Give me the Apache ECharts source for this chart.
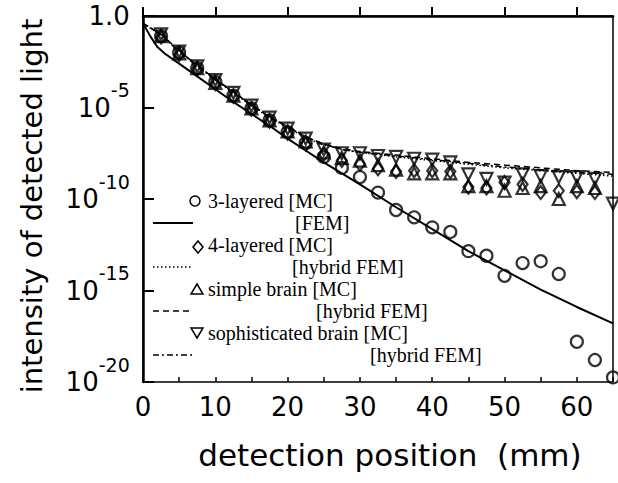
<!DOCTYPE html>
<html>
<head>
<meta charset="utf-8">
<script src="https://cdn.jsdelivr.net/npm/echarts@6/dist/echarts.min.js"></script>
<style>
html, body { margin: 0; padding: 0; background: #fff; }
#chart { width: 618px; height: 483px; }
</style>
</head>
<body>
<div id="chart"></div>
<script>
// all intensities are stored as log10(intensity)
var xMC = [2.5, 5, 7.5, 10, 12.5, 15, 17.5, 20, 22.5, 25, 27.5, 30, 32.5, 35, 37.5, 40, 42.5, 45, 47.5, 50, 52.5, 55, 57.5, 60, 62.5, 65];
var threeLayerMC = [-1.1, -2.0, -2.85, -3.6, -4.35, -5.05, -5.7, -6.35, -6.95, -7.7, -8.3, -8.8, -9.65, -10.6, -11.0, -11.55, -11.8, -12.85, -13.1, -14.2, -13.5, -13.4, -14.1, -17.8, -18.8, -19.75];
var fourLayerMC = [-1.15, -2.1, -2.9, -3.7, -4.4, -5.1, -5.75, -6.4, -7.0, -7.55, -7.9, -8.1, -8.35, -8.5, -8.45, -8.45, -8.5, -9.35, -9.4, -9.1, -9.2, -9.65, -9.55, -9.6, -9.65];
var simpleBrainMC = [-1.1, -2.05, -2.85, -3.65, -4.35, -5.05, -5.7, -6.3, -6.85, -7.45, -7.75, -7.9, -8.15, -8.4, -8.6, -8.6, -8.6, -9.3, -9.3, -9.55, -9.4, -9.3, -10.0, -9.3, -9.4];
var sophBrainMC = [-1.0, -1.95, -2.75, -3.5, -4.2, -4.9, -5.55, -6.15, -6.7, -7.3, -7.5, -7.5, -7.65, -7.7, -7.8, -7.85, -8.0, -8.65, -8.9, -9.1, -8.65, -8.75, -8.8, -8.8, -8.9, -10.25];

var xFEM = [0, 1, 2, 3, 5, 7.5, 10, 12.5, 15, 17.5, 20, 22.5, 25, 27.5, 30, 35, 40, 45, 50, 55, 60, 65];
var threeLayerFEM = [-0.4, -1.1, -1.7, -2.05, -2.6, -3.3, -4.0, -4.7, -5.35, -6.0, -6.7, -7.35, -8.0, -8.6, -9.2, -10.45, -11.65, -12.85, -13.9, -14.95, -15.9, -16.8];

var xHyb = [0, 2.5, 5, 7.5, 10, 12.5, 15, 17.5, 20, 22.5, 25, 27.5, 30, 35, 40, 45, 50, 55, 60, 65];
var fourLayerHyb = [-0.4, -1.05, -1.95, -2.75, -3.5, -4.2, -4.9, -5.55, -6.1, -6.65, -7.05, -7.3, -7.45, -7.7, -7.9, -8.1, -8.3, -8.45, -8.6, -8.75];
var simpleBrainHyb = [-0.4, -1.0, -1.9, -2.7, -3.45, -4.15, -4.85, -5.5, -6.05, -6.6, -7.0, -7.25, -7.4, -7.6, -7.8, -8.0, -8.15, -8.3, -8.45, -8.55];
var sophBrainHyb = [-0.4, -1.0, -1.9, -2.7, -3.45, -4.15, -4.85, -5.5, -6.05, -6.6, -7.0, -7.3, -7.45, -7.65, -7.85, -8.05, -8.25, -8.4, -8.55, -8.65];

var yTicks = [0, -5, -10, -15, -20];

function pairs(xs, ys) {
    var out = [];
    for (var i = 0; i < ys.length; i++) out.push([xs[i], ys[i]]);
    return out;
}

var myChart = echarts.init(document.getElementById('chart'), null, { renderer: 'svg' });

var markStyle = { color: 'rgba(0,0,0,0)', borderColor: '#000', borderWidth: 2.2 };
var legFont = { fontSize: 20, fontFamily: '"Liberation Serif", serif', fill: '#000', verticalAlign: 'middle' };
function legText(x, y, t) {
    return { type: 'text', x: x, y: y, style: Object.assign({ text: t }, legFont) };
}
function legLine(y, dash) {
    return { type: 'line', shape: { x1: 153, y1: y, x2: 193, y2: y },
        style: { stroke: '#000', lineWidth: dash ? 1.5 : 2, lineDash: dash || null } };
}
var legShape = { fill: 'none', stroke: '#000', lineWidth: 1.5 };
var sans = '"DejaVu Sans", sans-serif';

var option = {
    animation: false,
    grid: { left: 143, right: 5, top: 16, bottom: 101, show: true, borderColor: '#000', borderWidth: 1.5, backgroundColor: 'transparent' },
    xAxis: [
        {
            type: 'value', min: 0, max: 65, interval: 10,
            name: 'detection position  (mm)', nameLocation: 'middle', nameGap: 57,
            nameTextStyle: { fontSize: 31, fontFamily: sans, color: '#000', padding: [0, 0, 0, 24] },
            axisLine: { lineStyle: { color: '#000', width: 2.5 } },
            axisTick: { inside: true, length: 9, lineStyle: { color: '#000', width: 2 } },
            axisLabel: { showMaxLabel: false, margin: 12, fontSize: 26, fontFamily: sans, color: '#000' },
            splitLine: { show: false }
        },
        {
            type: 'value', min: 0, max: 65, interval: 5, position: 'bottom',
            axisLine: { show: false },
            axisTick: { inside: true, length: 5, lineStyle: { color: '#000', width: 1.5 } },
            axisLabel: { show: false },
            splitLine: { show: false }
        }
    ],
    yAxis: {
        type: 'value', min: -20, max: 0, interval: 5,
        name: 'intensity of detected light', nameLocation: 'middle', nameGap: 97,
        nameTextStyle: { fontSize: 29, fontFamily: sans, color: '#000', padding: [0, 14, 0, 0] },
        axisLine: { lineStyle: { color: '#000', width: 2.5 } },
        axisTick: { inside: true, length: 11, lineStyle: { color: '#000', width: 2 } },
        axisLabel: {
            margin: 13, color: '#000', padding: [0, 0, 14, 0],
            formatter: function (v) {
                if (yTicks.indexOf(v) < 0) return '';
                return v === 0 ? '{b|1.0}{h| }' : '{b|10}{s|' + v + '}{h| }';
            },
            rich: {
                b: { fontSize: 26, fontFamily: sans, color: '#000', verticalAlign: 'bottom', lineHeight: 26 },
                s: { fontSize: 19, fontFamily: sans, color: '#000', verticalAlign: 'top', lineHeight: 19 },
                h: { fontSize: 1, lineHeight: 40, verticalAlign: 'middle' }
            }
        },
        splitLine: { show: false }
    },
    series: [
        { name: '3-layered [MC]', type: 'scatter', symbol: 'circle', symbolSize: 12, itemStyle: markStyle, data: pairs(xMC, threeLayerMC) },
        { name: '4-layered [MC]', type: 'scatter', symbol: 'diamond', symbolSize: [10, 13], itemStyle: markStyle, data: pairs(xMC, fourLayerMC) },
        { name: 'simple brain [MC]', type: 'scatter', symbol: 'triangle', symbolSize: 12, itemStyle: markStyle, data: pairs(xMC, simpleBrainMC) },
        { name: 'sophisticated brain [MC]', type: 'scatter', symbol: 'triangle', symbolRotate: 180, symbolSize: 12, itemStyle: markStyle, data: pairs(xMC, sophBrainMC) },
        { name: '3-layered [FEM]', type: 'line', showSymbol: false, lineStyle: { color: '#000', width: 2 }, data: pairs(xFEM, threeLayerFEM) },
        { name: '4-layered [hybrid FEM]', type: 'line', showSymbol: false, lineStyle: { color: '#000', width: 1.5, type: [1.5, 2.5] }, data: pairs(xHyb, fourLayerHyb) },
        { name: 'simple brain [hybrid FEM]', type: 'line', showSymbol: false, lineStyle: { color: '#000', width: 1.5, type: [6, 4] }, data: pairs(xHyb, simpleBrainHyb) },
        { name: 'sophisticated brain [hybrid FEM]', type: 'line', showSymbol: false, lineStyle: { color: '#000', width: 1.5, type: [6, 3, 2, 3] }, data: pairs(xHyb, sophBrainHyb) }
    ],
    graphic: [
        { type: 'circle', shape: { cx: 195, cy: 201, r: 5 }, style: legShape },
        legText(208, 201, '3-layered [MC]'),
        legLine(223),
        legText(295, 223, '[FEM]'),
        { type: 'polygon', shape: { points: [[198, 241], [203, 247], [198, 253], [193, 247]] }, style: legShape },
        legText(208, 245, '4-layered [MC]'),
        legLine(267, [1.5, 2.5]),
        legText(292, 267, '[hybrid FEM]'),
        { type: 'polygon', shape: { points: [[197, 284], [203, 294], [191, 294]] }, style: legShape },
        legText(208, 289, 'simple brain [MC]'),
        legLine(311, [6, 4]),
        legText(316, 311, '[hybrid FEM]'),
        { type: 'polygon', shape: { points: [[191, 328], [203, 328], [197, 338]] }, style: legShape },
        legText(208, 333, 'sophisticated brain [MC]'),
        legLine(355, [6, 3, 2, 3]),
        legText(370, 355, '[hybrid FEM]')
    ]
};
myChart.setOption(option);
</script>
</body>
</html>
